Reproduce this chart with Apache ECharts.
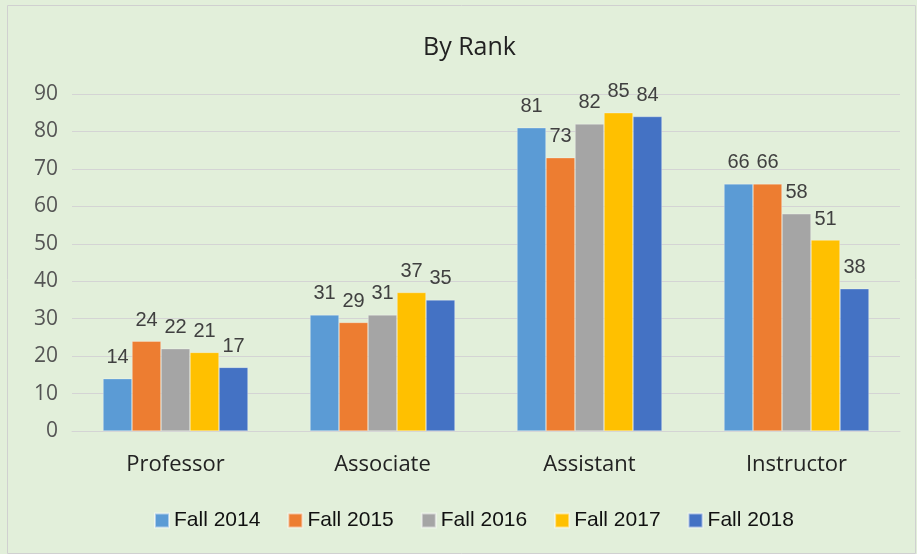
<!DOCTYPE html>
<html>
<head>
<meta charset="utf-8">
<script src="https://cdn.jsdelivr.net/npm/echarts@6/dist/echarts.min.js"></script>
<style>
  html, body { margin: 0; padding: 0; background: #fff; }
  #chart { width: 917px; height: 554px; }
</style>
</head>
<body>
<div id="chart"></div>
<script>
// data
const categories = ['Professor', 'Associate', 'Assistant', 'Instructor']
const seriesNames = ['Fall 2014', 'Fall 2015', 'Fall 2016', 'Fall 2017', 'Fall 2018']
const fall2014 = [14, 31, 81, 66]
const fall2015 = [24, 29, 73, 66]
const fall2016 = [22, 31, 82, 58]
const fall2017 = [21, 37, 85, 51]
const fall2018 = [17, 35, 84, 38]
const yTicks = { min: 0, max: 90, interval: 10 }

const colors = ['#5B9BD5', '#ED7D31', '#A5A5A5', '#FFC000', '#4472C4']
const values = [fall2014, fall2015, fall2016, fall2017, fall2018]
const narrow = '"Liberation Sans Narrow", "Liberation Sans", sans-serif'

const chart = echarts.init(document.getElementById('chart'))

chart.setOption({
  backgroundColor: '#E2EFDA',
  animation: false,
  color: colors,
  title: {
    text: 'By Rank',
    left: 418,
    top: 30,
    textStyle: {
      fontFamily: '"Open Sans", sans-serif',
      fontSize: 25,
      fontWeight: 'normal',
      color: '#222'
    }
  },
  graphic: [{
    type: 'rect',
    shape: { x: 7.5, y: 5.5, width: 908, height: 548 },
    style: { fill: 'none', stroke: '#D0D0D0', lineWidth: 1 },
    silent: true
  }],
  legend: {
    data: seriesNames,
    bottom: 23,
    left: 154,
    padding: 0,
    itemWidth: 14,
    itemHeight: 14,
    itemGap: 27,
    icon: 'rect',
    textStyle: {
      fontFamily: narrow,
      fontSize: 21,
      color: '#111'
    }
  },
  grid: {
    left: 72,
    right: 17,
    top: 94,
    bottom: 123,
    containLabel: false
  },
  xAxis: {
    type: 'category',
    data: categories,
    axisLine: { show: true, lineStyle: { color: '#D4D4D4', width: 1 } },
    axisTick: { show: false },
    axisLabel: {
      margin: 23,
      fontFamily: '"Open Sans", sans-serif',
      fontSize: 22,
      color: '#222'
    }
  },
  yAxis: {
    type: 'value',
    min: yTicks.min,
    max: yTicks.max,
    interval: yTicks.interval,
    axisLine: { show: false },
    axisTick: { show: false },
    splitLine: { lineStyle: { color: '#D4D4D4', width: 1 } },
    axisLabel: {
      margin: 14,
      fontFamily: '"Open Sans", sans-serif',
      fontSize: 21,
      color: '#555'
    }
  },
  series: seriesNames.map((name, i) => ({
    name: name,
    type: 'bar',
    data: values[i],
    barWidth: 29,
    barGap: '0%',
    itemStyle: {
      color: colors[i],
      borderColor: 'rgba(255,255,255,0.5)',
      borderWidth: 0.6
    },
    label: {
      show: true,
      position: 'top',
      distance: 11,
      fontFamily: narrow,
      fontSize: 20,
      color: '#404040'
    }
  }))
})
</script>
</body>
</html>
